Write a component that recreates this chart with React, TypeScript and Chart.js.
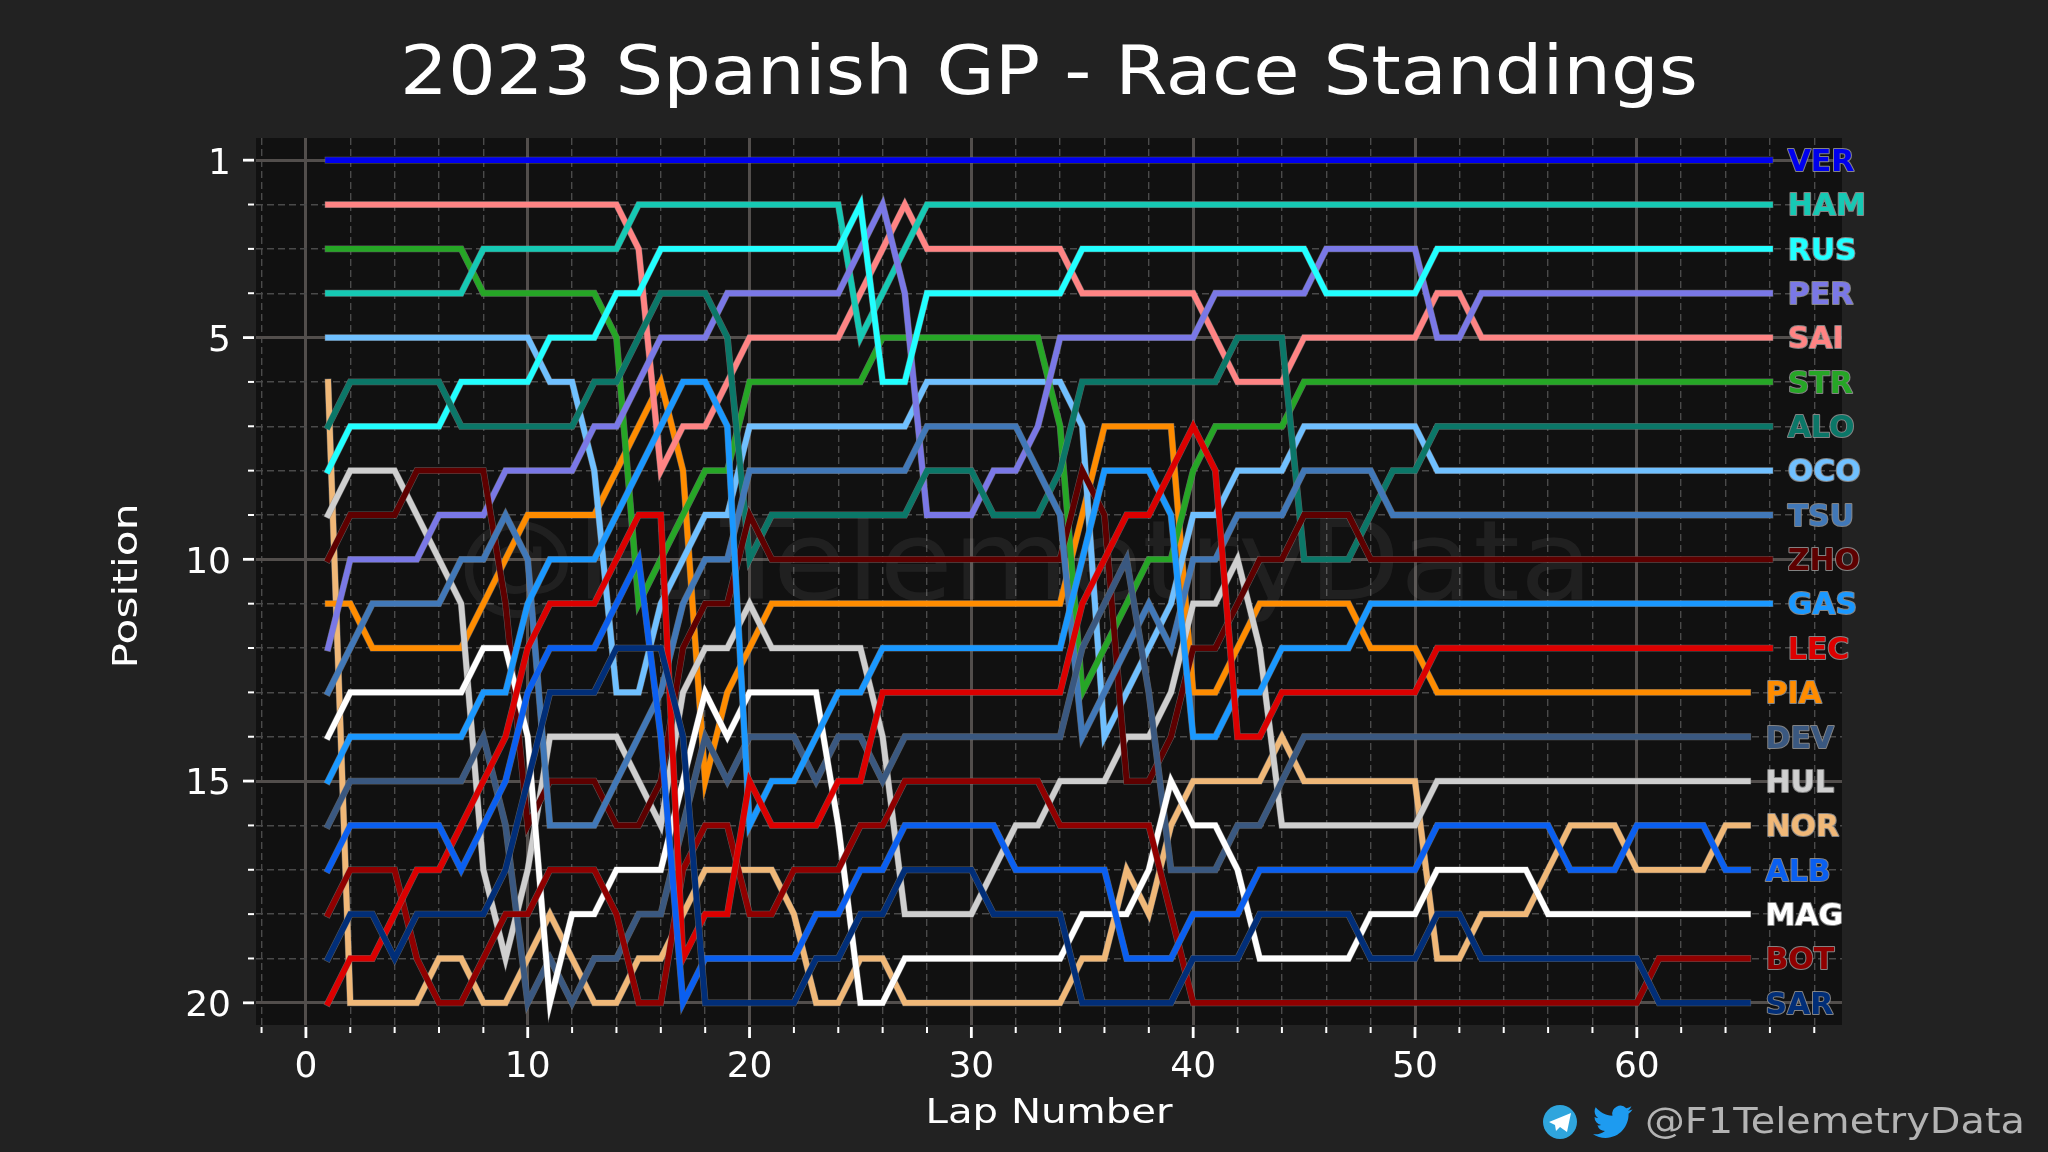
import React, { useEffect, useRef } from "react";
import { Chart, registerables } from "chart.js";

Chart.register(...registerables);

const TITLE = "2023 Spanish GP - Race Standings";
const HANDLE = "@F1TelemetryData";
const X_TITLE = "Lap Number";
const Y_TITLE = "Position";

const xTickValues = [-2, 0, 2, 4, 6, 8, 10, 12, 14, 16, 18, 20, 22, 24, 26, 28, 30, 32, 34, 36, 38, 40, 42, 44, 46, 48, 50, 52, 54, 56, 58, 60, 62, 64, 66, 68];
const xTickLabels = [0, 10, 20, 30, 40, 50, 60];
const yTickValues = [1, 2, 3, 4, 5, 6, 7, 8, 9, 10, 11, 12, 13, 14, 15, 16, 17, 18, 19, 20];
const yTickLabels = [1, 5, 10, 15, 20];
const laps = [
  1, 2, 3, 4, 5, 6, 7, 8, 9, 10, 11, 12, 13, 14, 15, 16, 17, 18, 19, 20, 21, 22, 23, 24, 25, 26, 27, 28, 29, 30, 31, 32, 33,
  34, 35, 36, 37, 38, 39, 40, 41, 42, 43, 44, 45, 46, 47, 48, 49, 50, 51, 52, 53, 54, 55, 56, 57, 58, 59, 60, 61, 62, 63, 64, 65, 66,
];

const VER = [1,1,1,1,1,1,1,1,1,1, 1,1,1,1,1,1,1,1,1,1, 1,1,1,1,1,1,1,1,1,1, 1,1,1,1,1,1,1,1,1,1, 1,1,1,1,1,1,1,1,1,1, 1,1,1,1,1,1,1,1,1,1, 1,1,1,1,1,1];
const HAM = [4,4,4,4,4,4,4,3,3,3, 3,3,3,3,2,2,2,2,2,2, 2,2,2,2,5,4,3,2,2,2, 2,2,2,2,2,2,2,2,2,2, 2,2,2,2,2,2,2,2,2,2, 2,2,2,2,2,2,2,2,2,2, 2,2,2,2,2,2];
const RUS = [8,7,7,7,7,7,6,6,6,6, 5,5,5,4,4,3,3,3,3,3, 3,3,3,3,2,6,6,4,4,4, 4,4,4,4,3,3,3,3,3,3, 3,3,3,3,3,4,4,4,4,4, 3,3,3,3,3,3,3,3,3,3, 3,3,3,3,3,3];
const PER = [12,10,10,10,10,9,9,9,8,8, 8,8,7,7,6,5,5,5,4,4, 4,4,4,4,3,2,4,9,9,9, 8,8,7,5,5,5,5,5,5,5, 4,4,4,4,4,3,3,3,3,3, 5,5,4,4,4,4,4,4,4,4, 4,4,4,4,4,4];
const SAI = [2,2,2,2,2,2,2,2,2,2, 2,2,2,2,3,8,7,7,6,5, 5,5,5,5,4,3,2,3,3,3, 3,3,3,3,4,4,4,4,4,4, 5,6,6,6,5,5,5,5,5,5, 4,4,5,5,5,5,5,5,5,5, 5,5,5,5,5,5];
const STR = [3,3,3,3,3,3,3,4,4,4, 4,4,4,5,11,10,9,8,8,6, 6,6,6,6,6,5,5,5,5,5, 5,5,5,7,13,12,11,10,10,8, 7,7,7,7,6,6,6,6,6,6, 6,6,6,6,6,6,6,6,6,6, 6,6,6,6,6,6];
const ALO = [7,6,6,6,6,6,7,7,7,7, 7,7,6,6,5,4,4,4,5,10, 9,9,9,9,9,9,9,8,8,8, 9,9,9,8,6,6,6,6,6,6, 6,5,5,5,10,10,10,9,8,8, 7,7,7,7,7,7,7,7,7,7, 7,7,7,7,7,7];
const OCO = [5,5,5,5,5,5,5,5,5,5, 6,6,8,13,13,11,10,9,9,7, 7,7,7,7,7,7,7,6,6,6, 6,6,6,6,7,14,13,12,11,9, 9,8,8,8,7,7,7,7,7,7, 8,8,8,8,8,8,8,8,8,8, 8,8,8,8,8,8];
const TSU = [13,12,11,11,11,11,10,10,9,10, 16,16,16,15,14,13,11,10,10,8, 8,8,8,8,8,8,8,7,7,7, 7,7,8,9,14,13,12,11,12,10, 10,9,9,9,8,8,8,8,9,9, 9,9,9,9,9,9,9,9,9,9, 9,9,9,9,9,9];
const ZHO = [10,9,9,9,8,8,8,8,11,16, 15,15,15,16,16,15,12,11,11,9, 10,10,10,10,10,10,10,10,10,10, 10,10,10,10,8,9,15,15,14,12, 12,11,10,10,9,9,9,10,10,10, 10,10,10,10,10,10,10,10,10,10, 10,10,10,10,10,10];
const GAS = [15,14,14,14,14,14,14,13,13,11, 10,10,10,9,8,7,6,6,7,16, 15,15,14,13,13,12,12,12,12,12, 12,12,12,12,10,8,8,8,9,14, 14,13,13,12,12,12,12,11,11,11, 11,11,11,11,11,11,11,11,11,11, 11,11,11,11,11,11];
const LEC = [20,19,19,18,17,17,16,15,14,12, 11,11,11,10,9,9,19,18,18,15, 16,16,16,15,15,13,13,13,13,13, 13,13,13,13,11,10,9,9,8,7, 8,14,14,13,13,13,13,13,13,13, 12,12,12,12,12,12,12,12,12,12, 12,12,12,12,12,12];
const PIA = [11,11,12,12,12,12,12,11,10,9, 9,9,9,8,7,6,8,15,13,12, 11,11,11,11,11,11,11,11,11,11, 11,11,11,11,9,7,7,7,7,13, 13,12,11,11,11,11,11,12,12,12, 13,13,13,13,13,13,13,13,13,13, 13,13,13,13,13];
const DEV = [16,15,15,15,15,15,15,14,16,20, 19,20,19,19,18,18,16,14,15,14, 14,14,15,14,14,15,14,14,14,14, 14,14,14,14,12,11,10,13,17,17, 17,16,16,15,14,14,14,14,14,14, 14,14,14,14,14,14,14,14,14,14, 14,14,14,14,14];
const HUL = [9,8,8,8,9,10,11,17,19,17, 14,14,14,14,15,16,13,12,12,11, 12,12,12,12,12,14,18,18,18,18, 17,16,16,15,15,15,14,14,13,11, 11,10,12,16,16,16,16,16,16,16, 15,15,15,15,15,15,15,15,15,15, 15,15,15,15,15];
const NOR = [6,20,20,20,20,19,19,20,20,19, 18,19,20,20,19,19,18,17,17,17, 17,18,20,20,19,19,20,20,20,20, 20,20,20,20,19,19,17,18,16,15, 15,15,15,14,15,15,15,15,15,15, 19,19,18,18,18,17,16,16,16,17, 17,17,17,16,16];
const ALB = [17,16,16,16,16,16,17,16,15,13, 12,12,12,11,10,14,20,19,19,19, 19,19,18,18,17,17,16,16,16,16, 16,17,17,17,17,17,19,19,19,18, 18,18,17,17,17,17,17,17,17,17, 16,16,16,16,16,16,17,17,17,16, 16,16,16,17,17];
const MAG = [14,13,13,13,13,13,13,12,12,14, 20,18,18,17,17,17,15,13,14,13, 13,13,13,16,20,20,19,19,19,19, 19,19,19,19,18,18,18,17,15,16, 16,17,19,19,19,19,19,18,18,18, 17,17,17,17,17,18,18,18,18,18, 18,18,18,18,18];
const BOT = [18,17,17,17,19,20,20,19,18,18, 17,17,17,18,20,20,17,16,16,18, 18,17,17,17,16,16,15,15,15,15, 15,15,15,16,16,16,16,16,18,20, 20,20,20,20,20,20,20,20,20,20, 20,20,20,20,20,20,20,20,20,20, 19,19,19,19,19];
const SAR = [19,18,18,19,18,18,18,18,17,15, 13,13,13,12,12,12,14,20,20,20, 20,20,19,19,18,18,17,17,17,17, 18,18,18,18,20,20,20,20,20,19, 19,19,18,18,18,18,18,19,19,19, 18,18,19,19,19,19,19,19,19,19, 20,20,20,20,20];

// First entry is painted last, so it lies on top.
const driverCodes = ["VER", "SAR", "ALB", "LEC", "GAS", "BOT", "MAG", "DEV", "TSU", "ZHO", "ALO", "RUS", "PER", "HAM", "STR", "SAI", "OCO", "HUL", "PIA", "NOR"];
const driverValues = [VER, SAR, ALB, LEC, GAS, BOT, MAG, DEV, TSU, ZHO, ALO, RUS, PER, HAM, STR, SAI, OCO, HUL, PIA, NOR];
const driverColors = ["#0000ee", "#012e78", "#0a5ff0", "#dc0000", "#1a98ff", "#900000", "#ffffff", "#3a5880", "#4178b8", "#5e0000", "#0b7768", "#22ffff", "#7a78e6", "#16c9b4", "#26a626", "#ff8484", "#70c0ff", "#cfcfcf", "#ff8c00", "#f0b878"];

const BIRD = "M23.953 4.57a10 10 0 01-2.825.775 4.958 4.958 0 002.163-2.723c-.951.555-2.005.959-3.127 1.184a4.92 4.92 0 00-8.384 4.482C7.69 8.095 4.067 6.13 1.64 3.162a4.822 4.822 0 00-.666 2.475c0 1.71.87 3.213 2.188 4.096a4.904 4.904 0 01-2.228-.616v.06a4.923 4.923 0 003.946 4.827 4.996 4.996 0 01-2.212.085 4.936 4.936 0 004.604 3.417 9.867 9.867 0 01-6.102 2.105c-.39 0-.779-.023-1.17-.067a13.995 13.995 0 007.557 2.209c9.053 0 13.998-7.496 13.998-13.985 0-.21 0-.42-.015-.63A9.935 9.935 0 0024 4.59z";
const FONT = '"DejaVu Sans"';

function fitText(ctx: CanvasRenderingContext2D, text: string, cx: number, cy: number, width: number, font: string, color: string, rotate = 0) {
  ctx.save();
  ctx.font = font;
  ctx.fillStyle = color;
  ctx.textAlign = "center";
  ctx.textBaseline = "middle";
  const natural = ctx.measureText(text).width;
  ctx.translate(cx, cy);
  if (rotate) ctx.rotate(rotate);
  ctx.scale(width / natural, 1);
  ctx.fillText(text, 0, 0);
  ctx.restore();
}

const decor = {
  id: "decor",
  beforeDraw(chart: any) {
    const { ctx, chartArea: a } = chart;
    ctx.save();
    ctx.fillStyle = "#222222";
    ctx.fillRect(0, 0, chart.width, chart.height);
    ctx.fillStyle = "#111111";
    ctx.fillRect(a.left, a.top, a.right - a.left, a.bottom - a.top);
    ctx.restore();
  },
  beforeDatasetsDraw(chart: any) {
    fitText(chart.ctx, HANDLE, 1025, 570, 1136, `110px ${FONT}`, "rgba(255,255,255,0.065)");
  },
  beforeDatasetDraw(chart: any, args: any) {
    // thin grey edge round each line, as in the reference's path effect
    const { ctx } = chart;
    const pts = args.meta.data;
    ctx.save();
    ctx.beginPath();
    pts.forEach((p: any, i: number) => (i ? ctx.lineTo(p.x, p.y) : ctx.moveTo(p.x, p.y)));
    ctx.lineWidth = 6.8;
    ctx.lineCap = "square";
    ctx.lineJoin = "miter";
    ctx.strokeStyle = "rgba(140,140,140,0.6)";
    ctx.stroke();
    ctx.restore();
  },
  afterDatasetsDraw(chart: any) {
    const { ctx, scales } = chart;
    ctx.save();
    ctx.font = `bold 30px ${FONT}`;
    ctx.textAlign = "left";
    ctx.textBaseline = "middle";
    ctx.lineJoin = "round";
    driverCodes.forEach((code, i) => {
      const vals = driverValues[i];
      const x = scales.x.getPixelForValue(vals.length + 0.8);
      const y = scales.y.getPixelForValue(vals[vals.length - 1]);
      ctx.lineWidth = 2;
      ctx.strokeStyle = "rgba(150,150,150,0.85)";
      ctx.strokeText(code, x, y + 3);
      ctx.fillStyle = driverColors[i];
      ctx.fillText(code, x, y + 3);
    });
    ctx.restore();
  },
  afterDraw(chart: any) {
    const { ctx, scales, chartArea: a } = chart;
    ctx.save();
    ctx.strokeStyle = "#ffffff";
    xTickValues.forEach((v) => {
      const major = v % 10 === 0;
      const x = scales.x.getPixelForValue(v);
      ctx.lineWidth = major ? 2.8 : 2;
      ctx.beginPath();
      ctx.moveTo(x, a.bottom + 2);
      ctx.lineTo(x, a.bottom + (major ? 13 : 8));
      ctx.stroke();
    });
    yTickValues.forEach((v) => {
      const major = yTickLabels.includes(v);
      const y = scales.y.getPixelForValue(v);
      ctx.lineWidth = major ? 2.8 : 2;
      ctx.beginPath();
      ctx.moveTo(a.left - 2, y);
      ctx.lineTo(a.left - (major ? 13 : 8), y);
      ctx.stroke();
    });
    ctx.restore();

    fitText(ctx, TITLE, 1049, 76, 1298, `68px ${FONT}`, "#ffffff");
    fitText(ctx, X_TITLE, 1049, 1114, 247, `33px ${FONT}`, "#ffffff");
    fitText(ctx, Y_TITLE, 128, 586, 165, `33px ${FONT}`, "#ffffff", -Math.PI / 2);

    // footer
    fitText(ctx, HANDLE, 1835, 1124, 380, `36px ${FONT}`, "#b4b4b4");
    ctx.save();
    ctx.fillStyle = "#2fa5dd";
    ctx.beginPath();
    ctx.arc(1560, 1122, 17, 0, Math.PI * 2);
    ctx.fill();
    ctx.fillStyle = "#ffffff";
    ctx.beginPath();
    ctx.moveTo(1549, 1122);
    ctx.lineTo(1571, 1113);
    ctx.lineTo(1567, 1132);
    ctx.lineTo(1560, 1127);
    ctx.lineTo(1556, 1131);
    ctx.lineTo(1555, 1125);
    ctx.closePath();
    ctx.fill();
    ctx.translate(1593, 1102);
    ctx.scale(1.65, 1.65);
    ctx.fillStyle = "#1d9bf0";
    ctx.fill(new Path2D(BIRD));
    ctx.restore();
  },
};

export default function App() {
  const ref = useRef<HTMLCanvasElement>(null);
  useEffect(() => {
    document.body.style.margin = "0";
    const chart = new Chart(ref.current as HTMLCanvasElement, {
      type: "line",
      data: {
        datasets: driverCodes.map((code, i) => ({
          label: code,
          data: driverValues[i].map((v, k) => ({ x: laps[k], y: v })),
          borderColor: driverColors[i],
          borderWidth: 5.8,
          pointRadius: 0,
          tension: 0,
          borderCapStyle: "square",
          borderJoinStyle: "miter",
          fill: false,
        })),
      },
      options: {
        animation: false,
        responsive: false,
        devicePixelRatio: 1,
        parsing: false,
        normalized: true,
        layout: { autoPadding: false, padding: { left: 0, top: 138, right: 206, bottom: 0 } },
        plugins: { legend: { display: false }, title: { display: false }, tooltip: { enabled: false } },
        scales: {
          x: {
            type: "linear",
            min: -2.25,
            max: 69.25,
            afterFit: (s: any) => { s.height = 127; },
            afterBuildTicks: (s: any) => { s.ticks = xTickValues.map((value) => ({ value })); },
            border: { display: false, dash: (c: any) => (c.tick && c.tick.value % 10 === 0 ? [] : [7, 4]) },
            grid: {
              drawTicks: false,
              color: (c: any) => (c.tick && c.tick.value % 10 === 0 ? "#524e4c" : "#4a4a4a"),
              lineWidth: (c: any) => (c.tick && c.tick.value % 10 === 0 ? 3 : 1.4),
            },
            ticks: {
              autoSkip: false,
              maxRotation: 0,
              padding: 21,
              color: "#ffffff",
              font: { family: "DejaVu Sans", size: 36 },
              callback: (v: any) => (xTickLabels.includes(v) ? String(v) : ""),
            },
          },
          y: {
            type: "linear",
            reverse: true,
            min: 0.5,
            max: 20.5,
            afterFit: (s: any) => { s.width = 256; },
            afterBuildTicks: (s: any) => { s.ticks = yTickValues.map((value) => ({ value })); },
            border: { display: false, dash: (c: any) => (c.tick && yTickLabels.includes(c.tick.value) ? [] : [7, 4]) },
            grid: {
              drawTicks: false,
              color: (c: any) => (c.tick && yTickLabels.includes(c.tick.value) ? "#524e4c" : "#4a4a4a"),
              lineWidth: (c: any) => (c.tick && yTickLabels.includes(c.tick.value) ? 3 : 1.4),
            },
            ticks: {
              autoSkip: false,
              padding: 25,
              labelOffset: 4,
              color: "#ffffff",
              font: { family: "DejaVu Sans", size: 36 },
              callback: (v: any) => (yTickLabels.includes(v) ? String(v) : ""),
            },
          },
        },
      },
      plugins: [decor],
    } as any);
    return () => chart.destroy();
  }, []);
  return (
    <div style={{ position: "fixed", inset: 0, background: "#222222" }}>
      <canvas ref={ref} width={2048} height={1152} />
    </div>
  );
}
